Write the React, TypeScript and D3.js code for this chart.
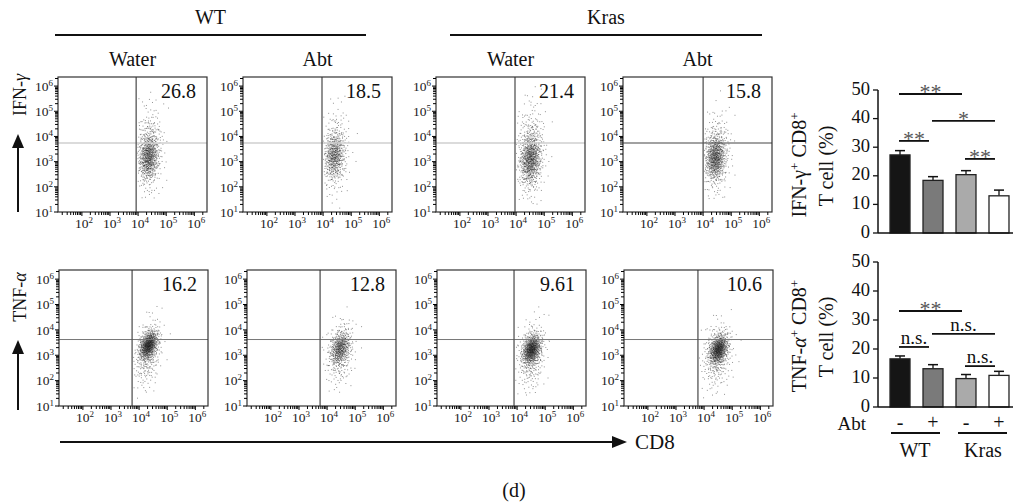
import React from "react";
import * as d3 from "d3";

const FONT = "'Liberation Serif', 'Times New Roman', serif";

// ---- data ----
const genotypes = ["WT", "Kras"];
const treatments = ["Water", "Abt", "Water", "Abt"];
const ifnPercents = ["26.8", "18.5", "21.4", "15.8"];
const tnfPercents = ["16.2", "12.8", "9.61", "10.6"];
const decades = [1, 2, 3, 4, 5, 6];
const xTickDecades = [2, 3, 4, 5, 6];

// cloud components per panel: [centerLogX, centerLogY, sdX, sdY, rho, count]
const ifnClouds = [
  [[4.36, 3.2, 0.17, 0.45, 0.1, 550], [4.38, 3.5, 0.24, 0.85, 0.1, 320]],
  [[4.38, 3.25, 0.17, 0.45, 0.1, 420], [4.42, 3.4, 0.25, 0.85, 0.1, 260]],
  [[4.5, 3.1, 0.18, 0.48, 0.1, 600], [4.5, 3.45, 0.25, 0.9, 0.1, 380]],
  [[4.42, 3.15, 0.17, 0.42, 0.1, 560], [4.45, 3.35, 0.25, 0.8, 0.1, 320]],
];
const tnfClouds = [
  [[4.32, 3.42, 0.16, 0.27, 0.4, 650], [4.3, 3.1, 0.24, 0.65, 0.3, 320]],
  [[4.45, 3.3, 0.17, 0.32, 0.3, 400], [4.45, 3.1, 0.25, 0.65, 0.2, 260]],
  [[4.5, 3.25, 0.16, 0.28, 0.3, 650], [4.5, 3.0, 0.24, 0.65, 0.2, 320]],
  [[4.5, 3.25, 0.16, 0.28, 0.3, 650], [4.45, 3.0, 0.27, 0.65, 0.2, 320]],
];
// gates [logX, logY]
const ifnGates = [[3.93, 3.74], [3.96, 3.74], [3.96, 3.74], [4.0, 3.74]];
const tnfGates = [[3.75, 3.62], [3.75, 3.62], [3.89, 3.62], [3.78, 3.62]];

const barGroups = ["WT-", "WT+", "Kras-", "Kras+"];
const abtSigns = ["-", "+", "-", "+"];
const ifnMean = [27.3, 18.4, 20.4, 13.0];
const ifnErr = [1.5, 1.3, 1.4, 2.0];
const tnfMean = [16.6, 13.2, 9.8, 10.9];
const tnfErr = [1.0, 1.4, 1.4, 1.4];
const barTicks = [0, 10, 20, 30, 40, 50];
// significance: [fromIdx, toIdx, value, label]
const ifnSig: [number, number, number, string][] = [
  [0, 2, 48.6, "**"],
  [1, 3, 39.2, "*"],
  [0, 1, 32.2, "**"],
  [2, 3, 25.9, "**"],
];
const tnfSig: [number, number, number, string][] = [
  [0, 2, 33.1, "**"],
  [1, 3, 25.2, "n.s."],
  [0, 1, 20.7, "n.s."],
  [2, 3, 14.1, "n.s."],
];

// ---- helpers ----
function halton(i: number, b: number) {
  let f = 1, r = 0;
  while (i > 0) {
    f /= b;
    r += f * (i % b);
    i = Math.floor(i / b);
  }
  return r;
}

function cloudPoints(comps: number[][], gate: number[], seed: number) {
  const pts: [number, number][] = [];
  comps.forEach((c, k) => {
    const [cx, cy, sx, sy, rho, n] = c;
    const start = 37 + seed * 2311 + k * 977;
    for (let i = 0; i < n; i++) {
      const u1 = Math.max(1e-6, halton(start + i, 2));
      const u2 = halton(start + i, 3);
      const r = Math.sqrt(-2 * Math.log(u1));
      const z1 = r * Math.cos(2 * Math.PI * u2);
      const z2 = r * Math.sin(2 * Math.PI * u2);
      const x = cx + sx * z1;
      const y = cy + sy * (rho * z1 + Math.sqrt(1 - rho * rho) * z2);
      if (x < gate[0] + 0.03 || x > 6.4 || y < 1.05 || y > 6.3) continue;
      pts.push([x, y]);
    }
  });
  return pts;
}

function Pow({ e }: { e: number }) {
  return (
    <>
      10<tspan dy={-5} fontSize={9}>{e}</tspan>
    </>
  );
}

function FlowPanel(props: {
  x0: number; y0: number; w: number; h: number;
  comps: number[][]; gate: number[]; label: string; hColor: string; hWidth: number; seed: number;
}) {
  const { x0, y0, w, h, comps, gate, label, hColor, hWidth, seed } = props;
  const xs = d3.scaleLog().domain([Math.pow(10, 1.15), Math.pow(10, 6.45)]).range([x0, x0 + w]);
  const ys = d3.scaleLog().domain([10, Math.pow(10, 6.36)]).range([y0 + h, y0]);
  const pts = cloudPoints(comps, gate, seed);
  const minorX: { v: number; major: boolean }[] = [];
  const minorY: { v: number; major: boolean }[] = [];
  decades.forEach((d) => {
    for (let m = 1; m <= 9; m++) {
      const v = m * Math.pow(10, d);
      if (v >= xs.domain()[0] && v <= xs.domain()[1]) minorX.push({ v, major: m === 1 });
      if (v >= ys.domain()[0] && v <= ys.domain()[1]) minorY.push({ v, major: m === 1 });
    }
  });
  const gx = xs(Math.pow(10, gate[0]));
  const gy = ys(Math.pow(10, gate[1]));
  return (
    <g>
      {pts.map((p, i) => (
        <rect key={i} x={xs(Math.pow(10, p[0]))} y={ys(Math.pow(10, p[1]))} width={1} height={1} fill="#111" opacity={0.45} />
      ))}
      <line x1={x0} x2={x0 + w} y1={gy} y2={gy} stroke={hColor} strokeWidth={hWidth} />
      <line x1={gx} x2={gx} y1={y0} y2={y0 + h} stroke="#555" strokeWidth={1.3} />
      <rect x={x0} y={y0} width={w} height={h} fill="none" stroke="#333" strokeWidth={1.2} />
      {minorY.map((t, i) => (
        <line key={"y" + i} x1={x0 - (t.major ? 4 : 3)} x2={x0} y1={ys(t.v)} y2={ys(t.v)} stroke="#000" strokeWidth={1} />
      ))}
      {minorX.map((t, i) => (
        <line key={"x" + i} y1={y0 + h} y2={y0 + h + (t.major ? 4 : 3)} x1={xs(t.v)} x2={xs(t.v)} stroke="#000" strokeWidth={1} />
      ))}
      {decades.map((d) => (
        <text key={"yl" + d} x={x0 - 5} y={ys(Math.pow(10, d))} dy="0.35em" textAnchor="end" fontSize={13.5} fill="#222">
          <Pow e={d} />
        </text>
      ))}
      {xTickDecades.map((d) => (
        <text key={"xl" + d} x={xs(Math.pow(10, d)) + 2} y={y0 + h + 16} textAnchor="middle" fontSize={13.5} fill="#222">
          <Pow e={d} />
        </text>
      ))}
      <text x={x0 + w - 11} y={y0 + 21} textAnchor="end" fontSize={20} fill="#111">{label}</text>
    </g>
  );
}

const barFills = ["#151515", "#7a7a7a", "#aaaaaa", "#ffffff"];

function BarChart(props: {
  yZero: number; yTop: number; means: number[]; errs: number[]; sig: [number, number, number, string][];
}) {
  const { yZero, yTop, means, errs, sig } = props;
  const ys = d3.scaleLinear().domain([0, 50]).range([yZero, yTop]);
  const xb = d3.scaleBand().domain(barGroups).range([878, 1021]).paddingInner(0.394).paddingOuter(0.364);
  const bw = xb.bandwidth();
  return (
    <g>
      {barGroups.map((g, i) => {
        const cx = (xb(g) as number) + bw / 2;
        return (
          <g key={g}>
            <line x1={cx} x2={cx} y1={ys(means[i])} y2={ys(means[i] + errs[i])} stroke="#111" strokeWidth={1.3} />
            <line x1={cx - 5} x2={cx + 5} y1={ys(means[i] + errs[i])} y2={ys(means[i] + errs[i])} stroke="#111" strokeWidth={1.5} />
            <rect x={xb(g)} y={ys(means[i])} width={bw} height={ys(0) - ys(means[i])} fill={barFills[i]} stroke="#222" strokeWidth={1.3} />
          </g>
        );
      })}
      <line x1={878} x2={878} y1={ys(0)} y2={ys(50)} stroke="#111" strokeWidth={1.5} />
      <line x1={878} x2={1013} y1={ys(0)} y2={ys(0)} stroke="#111" strokeWidth={1.6} />
      {barTicks.map((t) => (
        <g key={t}>
          <line x1={873} x2={878} y1={ys(t)} y2={ys(t)} stroke="#111" strokeWidth={1.3} />
          <text x={870} y={ys(t) - 1.5} dy="0.33em" textAnchor="end" fontSize={18.5} fill="#111">{t}</text>
        </g>
      ))}
      {sig.map(([a, b, v, lab], i) => {
        const x1 = (xb(barGroups[a]) as number) + bw / 2 - 1;
        const x2 = (xb(barGroups[b]) as number) + bw / 2 - 4;
        const y = ys(v);
        const star = lab.indexOf("*") >= 0;
        return (
          <g key={i}>
            <line x1={x1} x2={x2} y1={y} y2={y} stroke="#111" strokeWidth={1.8} />
            <text x={(x1 + x2) / 2} y={star ? y + 5 : y - 3} textAnchor="middle" fontSize={star ? 22 : 19} fill={star ? "#555" : "#111"}>{lab}</text>
          </g>
        );
      })}
    </g>
  );
}

export default function App() {
  const topLefts = [58, 243, 436, 623];
  const botLefts = [59, 247, 437, 624];
  return (
    <svg width={1013} height={502} style={{ position: "absolute", left: 0, top: 0, background: "#fff" }} fontFamily={FONT}>
      <rect x={0} y={0} width={1013} height={502} fill="#fff" />
      {/* headers */}
      {genotypes.map((g, i) => {
        const x1 = i === 0 ? 55 : 450;
        const x2 = i === 0 ? 366 : 762;
        return (
          <g key={g}>
            <text x={(x1 + x2) / 2} y={24} textAnchor="middle" fontSize={20} fill="#111">{g}</text>
            <line x1={x1} x2={x2} y1={35} y2={35} stroke="#111" strokeWidth={2} />
          </g>
        );
      })}
      {treatments.map((t, i) => (
        <text key={i} x={topLefts[i] + 74.5} y={66} textAnchor="middle" fontSize={20} fill="#111">{t}</text>
      ))}
      {/* flow panels */}
      {topLefts.map((x0, i) => (
        <FlowPanel key={"t" + i} x0={x0} y0={77} w={149} h={135} comps={ifnClouds[i]} gate={ifnGates[i]}
          label={ifnPercents[i]} hColor={i === 3 ? "#444" : "#cfcfcf"} hWidth={i === 3 ? 1.1 : 1.6} seed={i} />
      ))}
      {botLefts.map((x0, i) => (
        <FlowPanel key={"b" + i} x0={x0} y0={270} w={149} h={136} comps={tnfClouds[i]} gate={tnfGates[i]}
          label={tnfPercents[i]} hColor="#777" hWidth={1} seed={i + 4} />
      ))}
      {/* y axis labels with arrows */}
      <text transform="translate(26,95) rotate(-90)" textAnchor="middle" fontSize={18} fill="#111">
        IFN-<tspan fontStyle="italic">γ</tspan>
      </text>
      <line x1={18} x2={18} y1={212} y2={146} stroke="#111" strokeWidth={2} />
      <path d="M12,148 L24,148 L18,134 Z" fill="#111" />
      <text transform="translate(26,297) rotate(-90)" textAnchor="middle" fontSize={18} fill="#111">
        TNF-<tspan fontStyle="italic">α</tspan>
      </text>
      <line x1={18} x2={18} y1={410} y2={353} stroke="#111" strokeWidth={2} />
      <path d="M12,354 L24,354 L18,340 Z" fill="#111" />
      {/* CD8 arrow */}
      <line x1={60} x2={615} y1={442} y2={442} stroke="#111" strokeWidth={2} />
      <path d="M612,436 L612,448 L627,442 Z" fill="#111" />
      <text x={635} y={449} fontSize={21} fill="#111">CD8</text>
      {/* bar charts */}
      <BarChart yZero={233} yTop={90} means={ifnMean} errs={ifnErr} sig={ifnSig} />
      <BarChart yZero={407} yTop={262} means={tnfMean} errs={tnfErr} sig={tnfSig} />
      <text transform="translate(806,165) rotate(-90)" textAnchor="middle" fontSize={20} fill="#111">
        IFN-γ<tspan dy={-7} fontSize={13}>+</tspan><tspan dy={7}> CD8</tspan><tspan dy={-7} fontSize={13}>+</tspan>
      </text>
      <text transform="translate(833,166) rotate(-90)" textAnchor="middle" fontSize={20} fill="#111">T cell (%)</text>
      <text transform="translate(806,336) rotate(-90)" textAnchor="middle" fontSize={20} fill="#111">
        TNF-<tspan fontStyle="italic">α</tspan><tspan dy={-7} fontSize={13}>+</tspan><tspan dy={7}> CD8</tspan><tspan dy={-7} fontSize={13}>+</tspan>
      </text>
      <text transform="translate(833,337) rotate(-90)" textAnchor="middle" fontSize={20} fill="#111">T cell (%)</text>
      {/* bottom group labels */}
      <text x={866} y={430} textAnchor="end" fontSize={19} fill="#111">Abt</text>
      {abtSigns.map((s, i) => (
        <text key={i} x={900 + i * 33} y={429} textAnchor="middle" fontSize={20} fill="#111">{s}</text>
      ))}
      <line x1={891} x2={940} y1={433} y2={433} stroke="#111" strokeWidth={1.8} />
      <line x1={958} x2={1007} y1={433} y2={433} stroke="#111" strokeWidth={1.8} />
      <text x={915} y={457} textAnchor="middle" fontSize={20} fill="#111">WT</text>
      <text x={983} y={457} textAnchor="middle" fontSize={20} fill="#111">Kras</text>
      <text x={514} y={497} textAnchor="middle" fontSize={20} fill="#111">(d)</text>
    </svg>
  );
}
